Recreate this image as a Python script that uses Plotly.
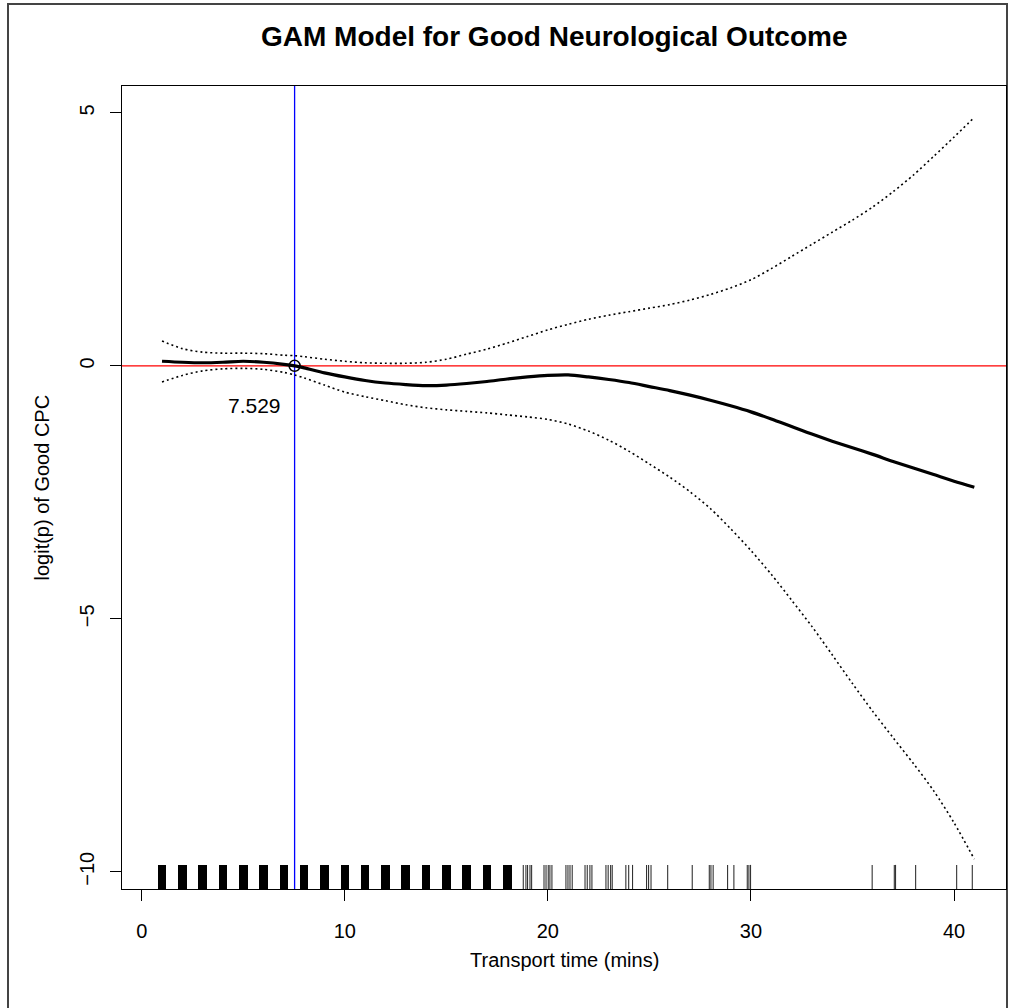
import plotly.graph_objects as go

# ---------------- data ----------------
fit_t = [1, 2, 3, 4, 5, 6, 7, 7.529, 8, 9, 10, 11, 12, 13, 14, 15, 16, 17, 18, 19, 20,
         21, 22, 23, 24, 25, 26, 27, 28, 29, 30, 31, 32, 33, 34, 35, 36, 37, 38, 39, 40, 41]
fit_y = [0.09, 0.07, 0.06, 0.07, 0.09, 0.07, 0.03, 0.0, -0.04, -0.14, -0.22, -0.29, -0.34,
         -0.37, -0.39, -0.38, -0.35, -0.31, -0.26, -0.22, -0.19, -0.18, -0.22, -0.27, -0.33,
         -0.41, -0.49, -0.58, -0.68, -0.79, -0.91, -1.05, -1.20, -1.35, -1.49, -1.62, -1.75,
         -1.89, -2.02, -2.15, -2.28, -2.40]
upper_y = [0.49, 0.34, 0.27, 0.25, 0.25, 0.24, 0.21, 0.20, 0.18, 0.13, 0.09, 0.06, 0.05,
           0.05, 0.07, 0.13, 0.23, 0.33, 0.45, 0.58, 0.71, 0.82, 0.92, 1.00, 1.07, 1.14,
           1.21, 1.30, 1.41, 1.54, 1.70, 1.92, 2.16, 2.40, 2.64, 2.88, 3.14, 3.44, 3.77,
           4.14, 4.52, 4.91]
lower_y = [-0.32, -0.19, -0.10, -0.06, -0.05, -0.07, -0.13, -0.18, -0.24, -0.38, -0.52,
           -0.61, -0.69, -0.77, -0.83, -0.87, -0.90, -0.93, -0.97, -1.01, -1.06, -1.15,
           -1.29, -1.47, -1.69, -1.94, -2.20, -2.49, -2.82, -3.22, -3.65, -4.12, -4.63,
           -5.15, -5.71, -6.28, -6.83, -7.35, -7.86, -8.40, -9.03, -9.75]

threshold = 7.529
threshold_label = "7.529"

# rug: dense clusters (many jittered obs) and individual observations
rug_dense = [1, 2, 3, 4, 5, 6, 7, 8, 9, 10, 11, 12, 13, 14, 15, 16, 17, 18]
rug_thin = [18.79, 18.92, 19.0, 19.12, 19.2,
            19.81, 19.91, 20.02, 20.1, 20.2,
            20.89, 20.99, 21.09, 21.2,
            21.83, 21.94, 22.07, 22.17,
            22.86, 22.97, 23.09, 23.17,
            23.84, 23.98, 24.17,
            24.86, 24.96, 25.08,
            25.9, 27.11, 27.95, 28.03, 28.14, 28.85, 29.16,
            29.82, 29.9, 29.98,
            35.97, 37.06, 37.12, 38.11, 40.13, 40.9]

x_ticks = [0, 10, 20, 30, 40]
y_ticks = [-10, -5, 0, 5]

title_text = "GAM Model for Good Neurological Outcome"
x_title = "Transport time (mins)"
y_title = "logit(p) of Good CPC"

# ---------------- layout constants ----------------
W, H = 1011, 1008
L, R, T, B = 122, 5, 86, 119
PW, PH = W - L - R, H - T - B
FONT = "Liberation Sans, Arial, Helvetica, sans-serif"


def px_x(p):
    return (p - L) / PW


def px_y(p):
    return (H - B - p) / PH


fig = go.Figure()

# confidence bands
fig.add_trace(go.Scatter(x=fit_t, y=upper_y, mode="lines", line_shape="spline",
                         line=dict(color="black", width=1.6, dash="2px,3px", smoothing=0.8),
                         showlegend=False, hoverinfo="skip"))
fig.add_trace(go.Scatter(x=fit_t, y=lower_y, mode="lines", line_shape="spline",
                         line=dict(color="black", width=1.6, dash="2px,3px", smoothing=0.8),
                         showlegend=False, hoverinfo="skip"))
# fitted curve
fig.add_trace(go.Scatter(x=fit_t, y=fit_y, mode="lines", line_shape="spline",
                         line=dict(color="black", width=3.2, smoothing=0.8), showlegend=False))

# rug (secondary y axis on [0,1])
fig.add_trace(go.Bar(x=rug_dense, y=[0.03] * len(rug_dense), width=0.42, yaxis="y2",
                     marker=dict(color="black", line=dict(width=0)), showlegend=False,
                     hoverinfo="skip"))
rx, ry = [], []
for v in rug_thin:
    rx += [v, v, None]
    ry += [0, 0.03, None]
fig.add_trace(go.Scatter(x=rx, y=ry, yaxis="y2", mode="lines",
                         line=dict(color="#333333", width=1.1), showlegend=False,
                         hoverinfo="skip"))

# threshold marker
fig.add_trace(go.Scatter(x=[threshold], y=[0], mode="markers",
                         marker=dict(symbol="circle-open", size=11, color="black",
                                     line=dict(width=1.5, color="black")),
                         showlegend=False))

# reference lines
fig.add_hline(y=0, line=dict(color="red", width=1.3), layer="below")
fig.add_vline(x=threshold, line=dict(color="blue", width=1.3), layer="below")

fig.add_annotation(x=5.53, y=-0.78, text=threshold_label, showarrow=False,
                   font=dict(family=FONT, size=21, color="black"),
                   xanchor="center", yanchor="middle")

# titles as annotations (R-like placement)
fig.add_annotation(xref="paper", yref="paper", x=px_x(554), y=px_y(37),
                   text="<b>" + title_text + "</b>",
                   showarrow=False, font=dict(family=FONT, size=28, color="black"),
                   xanchor="center", yanchor="middle")
fig.add_annotation(xref="paper", yref="paper", x=0.5, y=px_y(960), text=x_title,
                   showarrow=False, font=dict(family=FONT, size=20, color="black"),
                   xanchor="center", yanchor="middle")
fig.add_annotation(xref="paper", yref="paper", x=px_x(41), y=0.5, text=y_title,
                   showarrow=False, textangle=-90,
                   font=dict(family=FONT, size=20, color="black"),
                   xanchor="center", yanchor="middle")

# outer frame
fig.add_shape(type="rect", xref="paper", yref="paper",
              x0=px_x(8), x1=px_x(1007), y0=px_y(1015), y1=px_y(4),
              line=dict(color="#444444", width=2), fillcolor="rgba(0,0,0,0)", layer="below")

fig.update_layout(
    width=W, height=H,
    margin=dict(l=L, r=R, t=T, b=B, autoexpand=False),
    paper_bgcolor="white", plot_bgcolor="white",
    font=dict(family=FONT, size=20, color="black"),
    showlegend=False,
    bargap=0,
    xaxis=dict(range=[-0.97, 42.56], tickvals=x_ticks, ticks="outside", ticklen=11,
               tickcolor="black", tickwidth=1, showgrid=False, zeroline=False,
               showline=True, linecolor="black", linewidth=1.2, mirror=True,
               ticklabelstandoff=13, tickfont=dict(family=FONT, size=20, color="black")),
    yaxis=dict(range=[-10.34, 5.53], tickvals=y_ticks, ticks="outside", ticklen=11,
               tickcolor="black", tickwidth=1, showgrid=False, zeroline=False,
               showline=True, linecolor="black", linewidth=1.2, mirror=True,
               tickangle=-90, ticklabelstandoff=8,
               tickfont=dict(family=FONT, size=20, color="black")),
    yaxis2=dict(range=[0, 1], overlaying="y", visible=False, fixedrange=True),
)

fig.write_html("out.html", config={"displayModeBar": False},
               post_script="document.body.style.margin='0';document.body.style.overflow='hidden';")
